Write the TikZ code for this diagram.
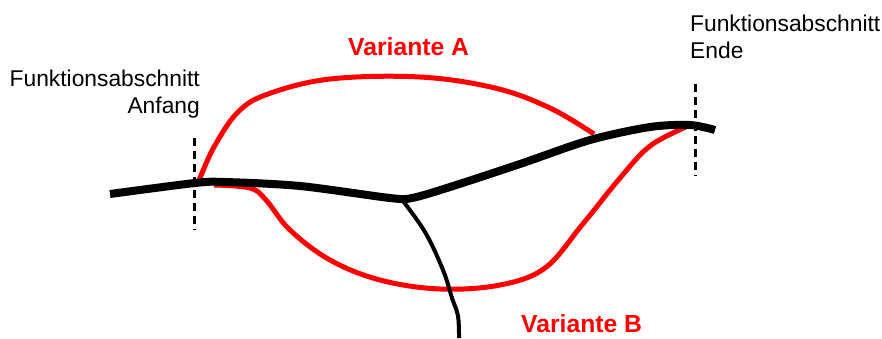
\documentclass[tikz,border=0pt]{standalone}
\usepackage{fontspec}
\setmainfont{Liberation Sans}
\begin{document}
\begin{tikzpicture}[x=1pt,y=-1pt,
  road/.style={line width=8pt,line cap=butt,line join=round},
  branch/.style={line width=4pt,line cap=butt},
  variant/.style={red,line width=5pt,line join=round},
  marker/.style={line width=3pt,dash pattern=on 8pt off 5pt},
  lbl/.style={font=\fontsize{22.8}{27}\selectfont,inner sep=0pt},
  vlbl/.style={red,font=\fontsize{24.7}{28}\bfseries\selectfont,inner sep=0pt,anchor=base west}]
\useasboundingbox (0,0) rectangle (882,338);
% markers
\coordinate (mA1) at (194,138); \coordinate (mA2) at (194,230);
\coordinate (mE1) at (695,84);  \coordinate (mE2) at (695,176);
\draw[marker] (mA1) -- (mA2);
\draw[marker] (mE1) -- (mE2);
% Variante A
\draw[variant] plot[smooth,tension=0.6] coordinates {(198,183) (214,147) (238,112) (268,94) (330,79) (420,77) (495,88) (550,108) (594,134)};
% Variante B
\draw[variant] plot[smooth,tension=0.6] coordinates {(214,185) (250,188) (266,200) (290,230) (330,260) (380,280) (440,289) (500,285) (545,268) (582,225) (620,178) (650,146) (686,127)};
% branch
\draw[branch] plot[smooth,tension=0.6] coordinates {(400,197) (425,232) (443,270) (452,298) (458,316) (459,338)};
% main road
\draw[road] plot[smooth,tension=0.5] coordinates {(110,194) (195,183) (225,182) (300,186) (390,198) (412,198) (450,187) (520,164) (590,140) (650,127) (690,125) (715,130)};
% labels
\node[lbl,anchor=base east,align=right] (anf) at (200,113) {Funktionsabschnitt\\Anfang};
\node[lbl,anchor=base west,align=left] (end) at (690,58) {Funktionsabschnitt\\Ende};
\node[vlbl] (va) at (348,55) {Variante A};
\node[vlbl] (vb) at (521,332) {Variante B};
\end{tikzpicture}
\end{document}
